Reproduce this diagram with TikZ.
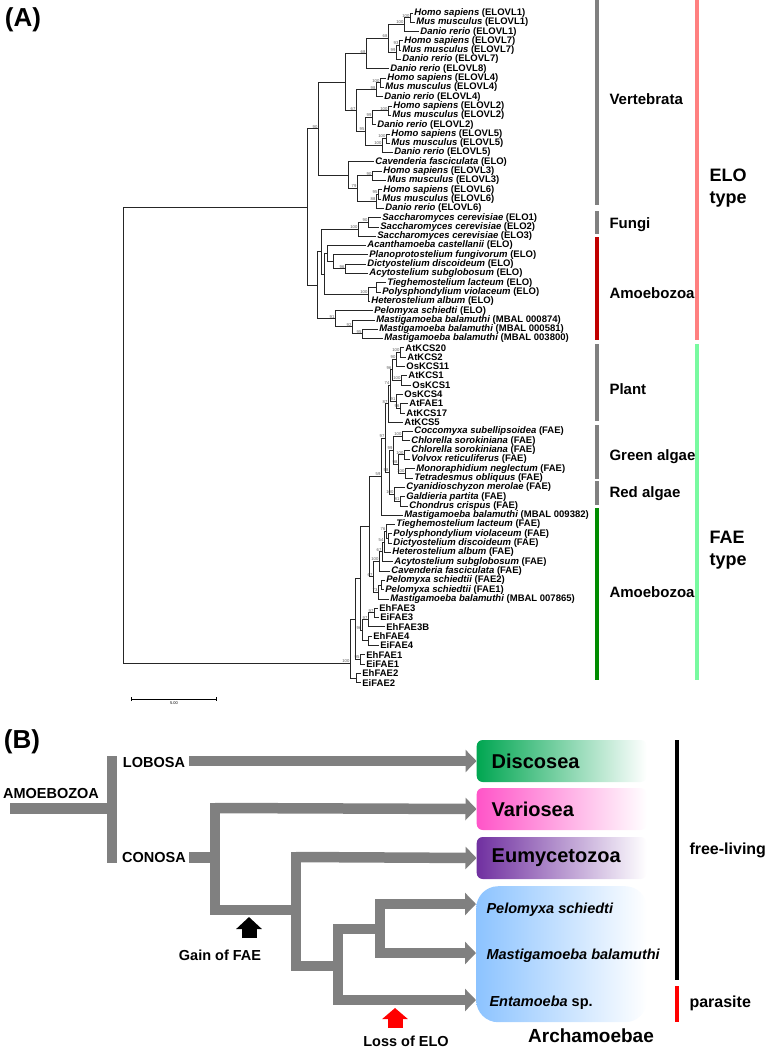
\documentclass[tikz,border=0pt]{standalone}
\usepackage{fontspec}
\setmainfont{Liberation Sans}
\usetikzlibrary{arrows.meta, positioning, calc}
\definecolor{barGray}{RGB}{128,128,128}
\definecolor{eloRed}{RGB}{192,0,0}
\definecolor{faeGreen}{RGB}{0,140,0}
\definecolor{eloPink}{RGB}{255,128,128}
\definecolor{faeMint}{RGB}{120,250,160}
\definecolor{discoGreen}{RGB}{0,166,81}
\definecolor{varioPink}{RGB}{255,85,200}
\definecolor{eumyPurple}{RGB}{112,48,160}
\definecolor{archBlue}{RGB}{140,195,255}
\definecolor{supGray}{RGB}{90,90,90}

% one bifurcation of the tree: name, x, upper child, lower child, bootstrap
\newcommand\clade[5]{%
  \path let \p1=(#3), \p2=(#4) in coordinate (#1) at (#2pt,{(\y1+\y2)/2});
  \draw[br] (#1) |- (#3) (#1) |- (#4);
  \if\relax\detokenize{#5}\relax\else\node[bs] (#1s) at (#1) {#5};\fi}
% same, with the node height given
\newcommand\cladeat[6]{%
  \coordinate (#1) at (#2,#3);
  \draw[br] (#1) |- (#4) (#1) |- (#5);
  \if\relax\detokenize{#6}\relax\else\node[bs] (#1s) at (#1) {#6};\fi}

\begin{document}
\begin{tikzpicture}[x=1pt, y=-1pt,
    br/.style={line width=0.8pt, black!85},
    bs/.style={anchor=south east, inner sep=0.4pt, text=supGray, font=\fontsize{4.2}{4}\selectfont},
    leaf/.style={anchor=west, inner sep=1.2pt, font=\fontsize{9.5}{9}\selectfont\bfseries},
    grpbar/.style={line width=4.5pt},
    grplab/.style={anchor=west, font=\fontsize{15}{15}\selectfont\bfseries},
    typelab/.style={anchor=west, align=left, font=\fontsize{18}{22}\selectfont\bfseries},
    panel/.style={font=\fontsize{26}{26}\selectfont\bfseries},
    trunk/.style={line width=10.5pt, draw=barGray},
    tip/.style={-{Triangle[length=11pt, width=22pt]}},
    cbox/.style={anchor=west, rounded corners=6pt, minimum height=42pt, text width=140pt, inner xsep=15pt, align=left, right color=white, font=\fontsize{20}{20}\selectfont\bfseries},
    sptext/.style={anchor=west, font=\fontsize{14.5}{14.5}\selectfont\bfseries},
    lab/.style={font=\fontsize{14.5}{14.5}\selectfont\bfseries}
  ]
    \useasboundingbox (0,0) rectangle (766,1049);

    % ---------------- (A) gene tree ----------------
    \node[panel] (pA) at (23,20) {(A)};

    % leaves with species and gene name
    \foreach \i/\tx/\sp/\gn in {1/413/Homo sapiens/ELOVL1, 2/415/Mus musculus/ELOVL1, 3/419/Danio rerio/ELOVL1,
        4/403/Homo sapiens/ELOVL7, 5/401/Mus musculus/ELOVL7, 6/401/Danio rerio/ELOVL7, 7/389/Danio rerio/ELOVL8,
        8/386/Homo sapiens/ELOVL4, 9/384/Mus musculus/ELOVL4, 10/383/Danio rerio/ELOVL4,
        11/392/Homo sapiens/ELOVL2, 12/391/Mus musculus/ELOVL2, 13/376/Danio rerio/ELOVL2,
        14/390/Homo sapiens/ELOVL5, 15/390/Mus musculus/ELOVL5, 16/393/Danio rerio/ELOVL5,
        17/374/Cavenderia fasciculata/ELO, 18/382/Homo sapiens/ELOVL3, 19/386/Mus musculus/ELOVL3,
        20/382/Homo sapiens/ELOVL6, 21/381/Mus musculus/ELOVL6, 22/384/Danio rerio/ELOVL6,
        23/381/Saccharomyces cerevisiae/ELO1, 24/379/Saccharomyces cerevisiae/ELO2, 25/376/Saccharomyces cerevisiae/ELO3,
        26/366/Acanthamoeba castellanii/ELO, 27/368/Planoprotostelium fungivorum/ELO, 28/366/Dictyostelium discoideum/ELO,
        29/368/Acytostelium subglobosum/ELO, 30/386/Tieghemostelium lacteum/ELO, 31/381/Polysphondylium violaceum/ELO,
        32/370/Heterostelium album/ELO, 33/373/Pelomyxa schiedti/ELO, 34/375/Mastigamoeba balamuthi/MBAL 000874,
        35/378/Mastigamoeba balamuthi/MBAL 000581, 36/383/Mastigamoeba balamuthi/MBAL 003800,
        46/413/Coccomyxa subellipsoidea/FAE, 47/410/Chlorella sorokiniana/FAE, 48/410/Chlorella sorokiniana/FAE,
        49/410/Volvox reticuliferus/FAE, 50/415/Monoraphidium neglectum/FAE, 51/413/Tetradesmus obliquus/FAE,
        52/405/Cyanidioschyzon merolae/FAE, 53/405/Galdieria partita/FAE, 54/408/Chondrus crispus/FAE,
        55/403/Mastigamoeba balamuthi/MBAL 009382, 56/395/Tieghemostelium lacteum/FAE, 57/392/Polysphondylium violaceum/FAE,
        58/392/Dictyostelium discoideum/FAE, 59/391/Heterostelium album/FAE, 60/393/Acytostelium subglobosum/FAE,
        61/390/Cavenderia fasciculata/FAE, 62/385/Pelomyxa schiedtii/FAE2, 63/384/Pelomyxa schiedtii/FAE1,
        64/389/Mastigamoeba balamuthi/MBAL 007865}{
      \coordinate (L\i) at (\tx,{13+(\i-1)*9.3});
      \node[leaf] (N\i) at (L\i) {\textit{\sp} (\gn)};
    }
    % leaves with gene name only
    \foreach \i/\tx/\nm in {37/404/AtKCS20, 38/406/AtKCS2, 39/405/OsKCS11, 40/407/AtKCS1, 41/411/OsKCS1,
        42/403/OsKCS4, 43/408/AtFAE1, 44/405/AtKCS17, 45/403/AtKCS5,
        65/378/EhFAE3, 66/379/EiFAE3, 67/385/EhFAE3B, 68/372/EhFAE4, 69/379/EiFAE4,
        70/365/EhFAE1, 71/365/EiFAE1, 72/361/EhFAE2, 73/361/EiFAE2}{
      \coordinate (L\i) at (\tx,{13+(\i-1)*9.3});
      \node[leaf] (N\i) at (L\i) {\nm};
    }

    % ELO clade
    \clade{V1}{410}{L1}{L2}{100}
    \clade{V2}{404}{V1}{L3}{100}
    \clade{V3}{399}{L4}{L5}{93}
    \clade{V4}{396}{V3}{L6}{99}
    \clade{V5}{388}{V2}{V4}{68}
    \clade{V6}{366}{V5}{L7}{68}
    \clade{V7}{380}{L8}{L9}{100}
    \clade{V8}{376}{V7}{L10}{98}
    \clade{V9}{388}{L11}{L12}{100}
    \clade{V10}{372}{V9}{L13}{99}
    \clade{V11}{386}{L14}{L15}{100}
    \clade{V12}{382}{V11}{L16}{100}
    \clade{V13}{365}{V10}{V12}{95}
    \clade{V14}{356}{V8}{V13}{67}
    \clade{V15}{345}{V6}{V14}{}
    \clade{W1}{372}{L18}{L19}{90}
    \clade{W2}{378}{L20}{L21}{95}
    \clade{W3}{376}{W2}{L22}{88}
    \clade{W4}{357}{W1}{W3}{79}
    \clade{CG}{348}{L17}{W4}{}
    \clade{T}{318}{V15}{CG}{90}
    \clade{S1}{368}{L23}{L24}{90}
    \clade{S2}{358}{S1}{L25}{100}
    \clade{Z1}{345}{L28}{L29}{96}
    \clade{Z2}{333}{L27}{Z1}{}
    \clade{Z3}{327}{L26}{Z2}{}
    \clade{K1}{376}{L30}{L31}{}
    \clade{K2}{368}{K1}{L32}{100}
    \clade{Y}{324}{Z3}{K2}{}
    \clade{X2}{321}{S2}{Y}{}
    \clade{M1}{362}{L35}{L36}{95}
    \clade{M2}{352}{L34}{M1}{92}
    \clade{M3}{335}{L33}{M2}{91}
    \clade{B}{317}{X2}{M3}{}
    \clade{E0}{307}{T}{B}{}

    % FAE clade
    \clade{P1}{400}{L37}{L38}{100}
    \clade{P2}{396}{P1}{L39}{90}
    \clade{P3}{401}{L40}{L41}{100}
    \clade{P4}{392}{P2}{P3}{96}
    \clade{P5}{400}{L43}{L44}{96}
    \clade{P6}{396}{L42}{P5}{91}
    \clade{P7}{390}{P4}{P6}{74}
    \clade{P8}{388}{P7}{L45}{87}
    \clade{G1}{402}{L46}{L47}{100}
    \clade{G2}{404}{L48}{L49}{100}
    \clade{G3}{405}{L50}{L51}{100}
    \clade{G4}{398}{G2}{G3}{98}
    \clade{G5}{393}{G1}{G4}{99}
    \clade{R1}{400}{L53}{L54}{81}
    \clade{R2}{394}{L52}{R1}{100}
    \clade{GR}{389}{G5}{R2}{98}
    \clade{PGR}{385}{P8}{GR}{97}
    \clade{FP}{381}{PGR}{L55}{59}
    \clade{D1}{388}{L57}{L58}{}
    \clade{D2}{386}{L56}{D1}{76}
    \clade{D3}{384}{D2}{L59}{54}
    \clade{D4}{382}{D3}{L60}{67}
    \clade{D5}{379}{D4}{L61}{100}
    \clade{A1}{381}{L62}{L63}{}
    \clade{A2}{378}{A1}{L64}{73}
    \clade{DA}{373}{D5}{A2}{67}
    \clade{Q1}{369}{FP}{DA}{}
    \clade{H1}{374}{L65}{L66}{97}
    \clade{H2}{368}{H1}{L67}{97}
    \clade{H3}{368}{L68}{L69}{}
    \clade{H4}{362}{H2}{H3}{96}
    \clade{Q2}{360}{Q1}{H4}{}
    \clade{H5}{360}{L70}{L71}{95}
    \clade{Q3}{355}{Q2}{H5}{}
    \clade{H6}{356}{L72}{L73}{}
    \cladeat{F0}{350}{663}{Q3}{H6}{100}

    % root
    \clade{R}{123}{E0}{F0}{}

    % scale bar
    \coordinate (sbL) at (131,699);
    \coordinate (sbR) at (217,699);
    \draw[line width=0.8pt, {Bar[width=4pt]}-{Bar[width=4pt]}] (sbL) -- (sbR);
    \node[below=2pt, inner sep=0pt, font=\fontsize{4}{4}\selectfont] (sbT) at ($(sbL)!0.5!(sbR)$) {5.00};

    % group bars
    \foreach \n/\ya/\yb/\c/\t/\yt in {vert/0/205/barGray/Vertebrata/99, fung/211/234/barGray/Fungi/225,
        amoA/237/340/eloRed/Amoebozoa/293, plant/344/421/barGray/Plant/389, galg/425/479/barGray/Green algae/457,
        ralg/481/505/barGray/Red algae/494, amoB/508/680/faeGreen/Amoebozoa/592}{
      \coordinate (\n1) at (597,\ya);
      \coordinate (\n2) at (597,\yb);
      \draw[grpbar, draw=\c] (\n1) -- (\n2);
      \node[grplab] (\n) at (606,\yt) {\t};
    }
    \coordinate (elo1) at (697,0);
    \coordinate (elo2) at (697,340);
    \coordinate (fae1) at (697,344);
    \coordinate (fae2) at (697,680);
    \draw[grpbar, draw=eloPink] (elo1) -- (elo2);
    \draw[grpbar, draw=faeMint] (fae1) -- (fae2);
    \node[typelab] (elo) at (706,188) {ELO\\type};
    \node[typelab] (fae) at (706,550) {FAE\\type};

    % ---------------- (B) scheme ----------------
    \node[panel] (pB) at (22,742) {(B)};

    % clade boxes
    \node[cbox, left color=discoGreen] (disc) at (476.5,761) {Discosea};
    \node[cbox, left color=varioPink] (vari) at (476.5,809) {Variosea};
    \node[cbox, left color=eumyPurple] (eumy) at (476.5,858) {Eumycetozoa};
    \node[anchor=north west, rounded corners=22pt, left color=archBlue, right color=white,
          minimum width=171pt, minimum height=136pt] (arch) at (476,886) {};
    \node[sptext] (pelo) at (483,910) {\textit{Pelomyxa schiedti}};
    \node[sptext] (mast) at (483,956) {\textit{Mastigamoeba balamuthi}};
    \node[sptext] (enta) at (486,1003) {\textit{Entamoeba} sp.};
    \node[inner sep=0pt, font=\fontsize{19}{19}\selectfont\bfseries] (archT) at (591,1036) {Archamoebae};

    % thick branches
    \node[lab] (amoe) at (51,793) {AMOEBOZOA};
    \node[lab] (lobo) at (154,762) {LOBOSA};
    \node[lab] (cono) at (154,857) {CONOSA};
    \coordinate (amr) at (10,808.5);
    \coordinate (amj) at (112,808.5);
    \coordinate (lobj) at (112,761);
    \coordinate (conj) at (112,857.5);
    \coordinate (lobs) at (189,761);
    \coordinate (cons) at (189,857.5);
    \coordinate (k1) at (215,857.5);
    \coordinate (k1a) at (215,808);
    \coordinate (k1b) at (215,910);
    \coordinate (k2m) at (296,910);
    \coordinate (k2a) at (296,857);
    \coordinate (k2b) at (296,966);
    \coordinate (k3m) at (338,966);
    \coordinate (k3a) at (338,929);
    \coordinate (k3b) at (338,1000);
    \coordinate (k4m) at (380,929);
    \coordinate (k4a) at (380,904);
    \coordinate (k4b) at (380,953);
    \coordinate (pelTip) at (476,904);
    \coordinate (masTip) at (476,953);
    \coordinate (entTip) at (476,1000);

    \draw[trunk] (amr) -- (amj);
    \draw[trunk, line cap=rect] (lobj) -- (conj);
    \draw[trunk, tip] (lobs) -- (disc.west);
    \draw[trunk] (cons) -- (k1);
    \draw[trunk, line cap=rect] (k1a) -- (k1b);
    \draw[trunk, tip] (k1a) -- (vari.west);
    \draw[trunk] (k1b) -- (k2m);
    \draw[trunk, line cap=rect] (k2a) -- (k2b);
    \draw[trunk, tip] (k2a) -- (eumy.west);
    \draw[trunk] (k2b) -- (k3m);
    \draw[trunk, line cap=rect] (k3a) -- (k3b);
    \draw[trunk] (k3a) -- (k4m);
    \draw[trunk, line cap=rect] (k4a) -- (k4b);
    \draw[trunk, tip] (k4a) -- (pelTip);
    \draw[trunk, tip] (k4b) -- (masTip);
    \draw[trunk, tip] (k3b) -- (entTip);

    % gain and loss
    \coordinate (gainB) at (249,938);
    \coordinate (gainT) at (249,917);
    \draw[line width=15pt, -{Triangle[length=12pt, width=25pt]}] (gainB) -- (gainT);
    \node[lab] (gain) at (220,955) {Gain of FAE};
    \coordinate (lossB) at (395,1028);
    \coordinate (lossT) at (395,1008);
    \draw[line width=15pt, red, -{Triangle[length=11pt, width=25pt]}] (lossB) -- (lossT);
    \node[lab] (loss) at (406,1041) {Loss of ELO};

    % life style
    \coordinate (fl1) at (677,740);
    \coordinate (fl2) at (677,980);
    \coordinate (pa1) at (677,986);
    \coordinate (pa2) at (677,1022);
    \draw[line width=4pt] (fl1) -- (fl2);
    \draw[line width=4pt, red] (pa1) -- (pa2);
    \node[anchor=west, font=\fontsize{16}{16}\selectfont\bfseries] (free) at (686,850) {free-living};
    \node[anchor=west, font=\fontsize{16}{16}\selectfont\bfseries] (para) at (686,1003) {parasite};
\end{tikzpicture}
\end{document}
